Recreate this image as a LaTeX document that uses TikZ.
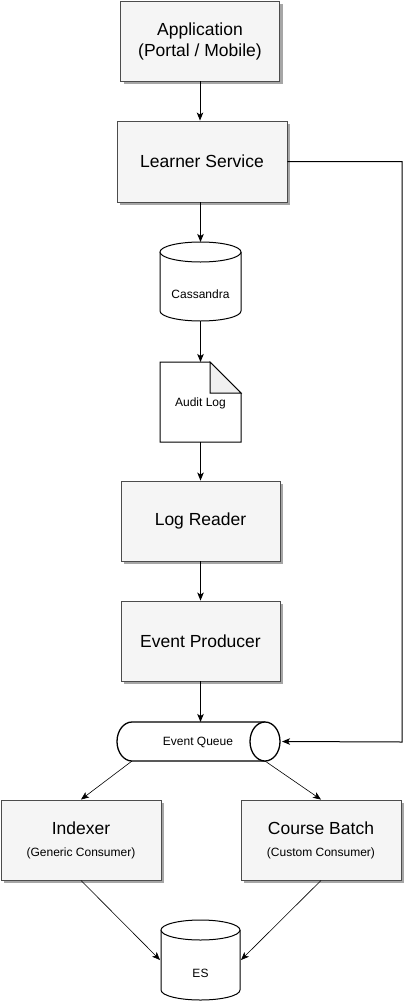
\documentclass[tikz,border=0pt]{standalone}
\usepackage{fontspec}
\setmainfont{Liberation Sans}
\usetikzlibrary{arrows.meta,shadows}
\begin{document}
\begin{tikzpicture}[x=1pt,y=-1pt,
  box/.style={draw=black!70, fill=black!4, line width=0.9pt, minimum width=159pt, minimum height=80pt, align=center,
    font=\fontsize{17.5}{21}\selectfont,
    drop shadow={shadow xshift=3pt, shadow yshift=-3pt, fill=black!35, opacity=1}},
  holder/.style={inner sep=0pt, outer sep=0pt, font=\fontsize{12}{14}\selectfont},
  shp/.style={draw=black, line width=1pt, fill=white},
  arr/.style={-{Stealth[length=8pt,width=6.5pt,inset=2pt]}, line width=1pt, draw=black},
  thinarr/.style={arr, line width=0.6pt}
]
\useasboundingbox (0,0) rectangle (409,1001);

% rectangles
\node[box] (app) at (200,41) {Application\\(Portal / Mobile)};
\node[box, minimum width=170pt, minimum height=81pt] (ls) at (202,161.5) {Learner Service};
\node[box] (lr) at (200.5,521) {Log Reader};
\node[box] (ep) at (200.5,641) {Event Producer};
\node[box, minimum width=160pt] (idx) at (81,840) {Indexer\\[1pt]\fontsize{12}{14}\selectfont (Generic Consumer)};
\node[box, minimum width=160pt] (cb) at (321,840) {Course Batch\\[1pt]\fontsize{12}{14}\selectfont (Custom Consumer)};

% Cassandra cylinder
\fill[white] (160,252) rectangle (241,311);
\fill[white] (200.5,311) ellipse[x radius=40.5, y radius=10];
\draw[line width=1pt] (160,252) -- (160,311) arc[start angle=180, end angle=0, x radius=40.5, y radius=10] -- (241,252);
\draw[shp] (200.5,252) ellipse[x radius=40.5, y radius=10];
\node[holder, minimum width=81pt, minimum height=79pt] (cas) at (200.5,281.5) {};
\node[holder] (castext) at (200.5,294) {Cassandra};

% Audit Log document
\draw[shp] (160,362) -- (210,362) -- (241,393) -- (241,442) -- (160,442) -- cycle;
\draw[line width=1pt, fill=black!6] (210,362) -- (210,393) -- (241,393) -- cycle;
\node[holder, minimum width=81pt, minimum height=80pt] (audit) at (200.5,402) {};
\node[holder] (audittext) at (200.5,403) {Audit Log};

% Event Queue horizontal cylinder
\fill[white] (132,722) rectangle (265,761);
\fill[white] (132,741.5) ellipse[x radius=15, y radius=19.5];
\draw[line width=1.3pt] (265,722) -- (132,722) arc[start angle=270, end angle=90, x radius=15, y radius=19.5] -- (265,761);
\draw[line width=1.3pt, fill=white] (265,741.5) ellipse[x radius=15, y radius=19.5];
\node[holder, minimum width=133pt, minimum height=39pt] (eq) at (198.5,741.5) {};
\node[holder] (eqtext) at (198,742) {Event Queue};

% ES cylinder
\fill[white] (161,930) rectangle (240,990);
\fill[white] (200.5,990) ellipse[x radius=39.5, y radius=10];
\draw[line width=1pt] (161,930) -- (161,990) arc[start angle=180, end angle=0, x radius=39.5, y radius=10] -- (240,930);
\draw[shp] (200.5,930) ellipse[x radius=39.5, y radius=10];
\node[holder, minimum width=81pt, minimum height=80pt] (es) at (200.5,960) {};
\node[holder] (estext) at (200.5,973) {ES};

% connectors
\draw[arr] (app.south) -- (app.south |- ls.north);
\draw[arr] (ls.south -| cas.north) -- (cas.north);
\draw[arr] (cas.south) -- (audit.north);
\draw[arr] (audit.south) -- (lr.north -| audit.south);
\draw[arr] (lr.south) -- (ep.north);
\draw[arr] (ep.south) -- (ep.south |- eq.north);
\coordinate (c1) at (402,161.5);
\coordinate (c2) at (402,742);
\draw[arr] (ls.east) -- (c1) -- (c2) -- ([xshift=17pt]eq.east);
\draw[thinarr] (eq.south west) -- (idx.north);
\draw[thinarr] (eq.south east) -- (cb.north);
\draw[thinarr] (idx.south) -- (es.west);
\draw[thinarr] (cb.south) -- (es.east);
\end{tikzpicture}
\end{document}
